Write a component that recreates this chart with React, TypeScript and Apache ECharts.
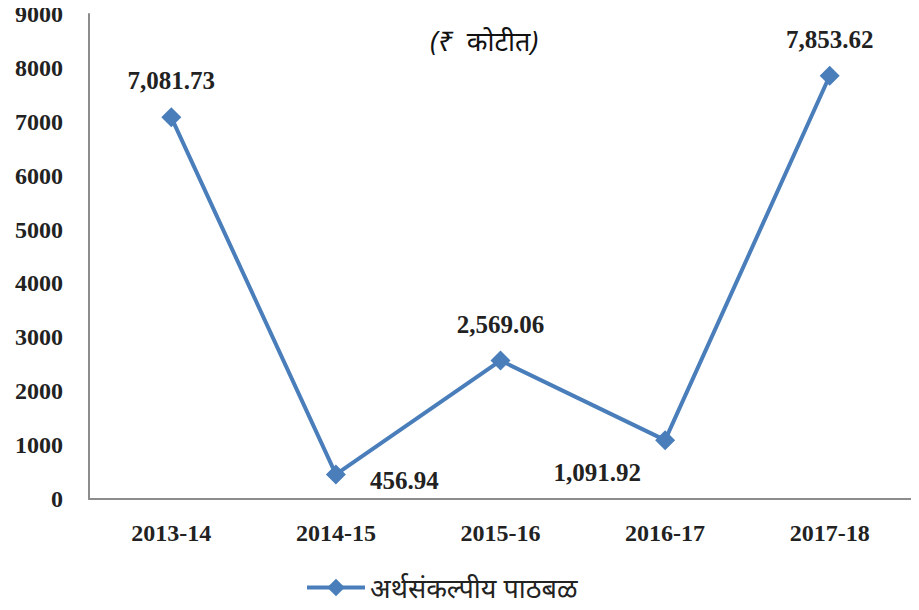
import React, { useEffect, useRef } from "react";
import * as echarts from "echarts";

const categories = ["2013-14", "2014-15", "2015-16", "2016-17", "2017-18"];
const values = [7081.73, 456.94, 2569.06, 1091.92, 7853.62];
const valueLabels = ["7,081.73", "456.94", "2,569.06", "1,091.92", "7,853.62"];
const seriesName = "अर्थसंकल्पीय पाठबळ";
const unitText = "(₹  कोटीत)";

const labelPos: any[] = [
  { position: "top", distance: 14 },
  { position: "right", offset: [14, 6], distance: 10 },
  { position: "top", distance: 14 },
  { position: "left", offset: [-14, 32], distance: 0 },
  { position: "top", distance: 14 },
];

export default function App() {
  const ref = useRef<HTMLDivElement>(null);
  useEffect(() => {
    const chart = echarts.init(ref.current!, null, { renderer: "svg" });
    const serif = "'Liberation Serif', 'Times New Roman', serif";
    chart.setOption({
      animation: false,
      backgroundColor: "#ffffff",
      grid: { left: 89, top: 14, right: 7, bottom: 111, containLabel: false },
      graphic: [
        {
          type: "text",
          left: 430,
          top: 27,
          style: {
            text: unitText,
            font: "italic 27px 'Noto Sans', sans-serif",
            fill: "#111",
          },
        },
      ],
      legend: {
        bottom: 4,
        left: 300,
        itemWidth: 58,
        itemHeight: 22,
        itemGap: 4,
        lineStyle: { width: 4 },
        textStyle: { fontSize: 27, color: "#222", fontFamily: "'Noto Sans', sans-serif" },
        data: [seriesName],
      },
      xAxis: {
        type: "category",
        data: categories,
        boundaryGap: true,
        axisLine: { lineStyle: { color: "#8c8c8c", width: 2 } },
        axisTick: { show: false },
        axisLabel: {
          margin: 22,
          fontFamily: serif,
          fontWeight: "bold",
          fontSize: 24,
          color: "#222",
        },
      },
      yAxis: {
        type: "value",
        min: 0,
        max: 9000,
        interval: 1000,
        splitLine: { show: false },
        axisLine: { show: true, lineStyle: { color: "#8c8c8c", width: 2 } },
        axisTick: { show: false },
        axisLabel: {
          margin: 26,
          formatter: (v: number) => String(v),
          fontFamily: serif,
          fontWeight: "bold",
          fontSize: 24,
          color: "#222",
        },
      },
      series: [
        {
          name: seriesName,
          type: "line",
          data: values.map((v, i) => ({
            value: v,
            label: { show: true, ...labelPos[i] },
          })),
          symbol: "diamond",
          symbolSize: 20,
          itemStyle: { color: "#4a7ebb" },
          lineStyle: { color: "#4a7ebb", width: 4 },
          label: {
            show: true,
            formatter: (p: any) => valueLabels[p.dataIndex],
            fontFamily: serif,
            fontWeight: "bold",
            fontSize: 25,
            color: "#222",
          },
        },
      ],
    });
    return () => chart.dispose();
  }, []);
  return <div ref={ref} style={{ width: 919, height: 610, margin: -8 }} />;
}
